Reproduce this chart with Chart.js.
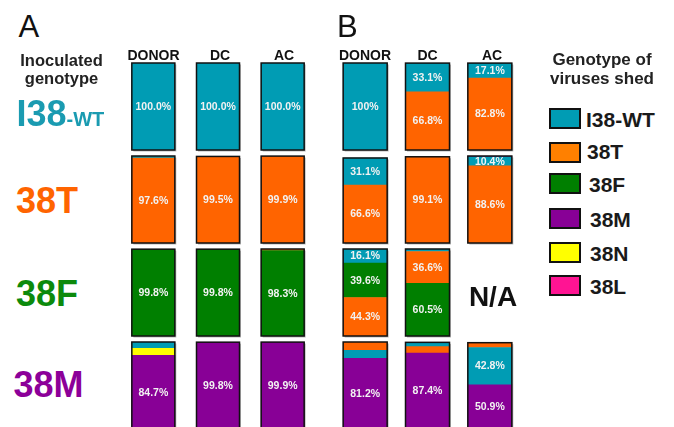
<!DOCTYPE html>
<html>
<head>
<meta charset="utf-8">
<script src="https://cdn.jsdelivr.net/npm/chart.js@4/dist/chart.umd.min.js"></script>
<style>
  html, body { margin: 0; padding: 0; background: #fff; }
  body { width: 674px; height: 427px; overflow: hidden; position: relative;
         font-family: "Liberation Sans", Arial, sans-serif; }
  .t { position: absolute; line-height: 1; white-space: nowrap; }
  .box { position: absolute; box-sizing: border-box; border: 2.5px solid #111; }
  .cell { position: absolute; }
</style>
</head>
<body>
<script>
// Genotypes of the viruses shed and their fill colours
const genotypes = ['I38-WT', '38T', '38F', '38M', '38N', '38L'];
const genotypeColors = ['#009cb4', '#ff6400', '#007f00', '#880096', '#ffff00', '#ff1493'];
const legendColors = ['#009cb4', '#ff8000', '#007f00', '#880096', '#ffff00', '#ff1493'];

// Columns: ferrets sampled; rows: genotype used for inoculation
const columnLabels = ['DONOR', 'DC', 'AC'];
const inoculated = ['I38-WT', '38T', '38F', '38M'];

// Percent of each shed genotype per ferret, segments listed bottom to top
const panelA_WT = [[['I38-WT', 100.0]], [['I38-WT', 100.0]], [['I38-WT', 100.0]]];
const panelA_T  = [[['38T', 97.6], ['I38-WT', 2.4]], [['38T', 99.5]], [['38T', 99.9]]];
const panelA_F  = [[['38F', 99.8]], [['38F', 99.8]], [['38F', 98.3], ['38T', 1.7]]];
const panelA_M  = [[['38M', 84.7], ['38N', 8.0], ['I38-WT', 7.3]], [['38M', 99.8]], [['38M', 99.9]]];

const panelB_WT = [[['I38-WT', 100]], [['38T', 66.8], ['I38-WT', 33.1]], [['38T', 82.8], ['I38-WT', 17.1]]];
const panelB_T  = [[['38T', 66.6], ['I38-WT', 31.1]], [['38T', 99.1]], [['38T', 88.6], ['I38-WT', 10.4], ['38M', 1.0]]];
const panelB_F  = [[['38T', 44.3], ['38F', 39.6], ['I38-WT', 16.1]], [['38F', 60.5], ['38T', 36.6], ['I38-WT', 2.9]], []];
const panelB_M  = [[['38M', 81.2], ['I38-WT', 9.2], ['38T', 9.6]], [['38M', 87.4], ['38T', 7.2], ['I38-WT', 5.0]], [['38M', 50.9], ['I38-WT', 42.8], ['38T', 5.5]]];

// ---- layout ----
const ROW_TOPS = [63, 156, 249, 342];
const ROW_H = 87;
const PAD = 3;
const PANELS = [
  { rows: [panelA_WT, panelA_T, panelA_F, panelA_M], left: 121, width: 194, bar: 43,
    fmt: v => v.toFixed(1) + '%', heads: [153.5, 220, 284] },
  { rows: [panelB_WT, panelB_T, panelB_F, panelB_M], left: 334, width: 187, bar: 44,
    fmt: v => (Number.isInteger(v) ? String(v) : v.toFixed(1)) + '%', heads: [365, 427.5, 492] }
];

function addText(txt, x, baseline, size, weight, color, center) {
  const d = document.createElement('div');
  d.className = 't';
  d.textContent = txt;
  d.style.fontSize = size + 'px';
  d.style.fontWeight = weight;
  d.style.color = color;
  d.style.left = x + 'px';
  d.style.top = (baseline - 0.8465 * size) + 'px';
  if (center) d.style.transform = 'translateX(-50%)';
  document.body.appendChild(d);
  return d;
}

// Outline and drop shadow around each whole stacked bar
const framePlugin = {
  id: 'barFrame',
  beforeDatasetsDraw(chart, args, opts) {
    const ctx = chart.ctx;
    frames(chart, opts.bars).forEach(f => {
      ctx.save();
      ctx.fillStyle = '#b9b9b9';
      ctx.fillRect(f.x + 1.5, f.top + 1.5, f.w, f.bottom - f.top);
      ctx.fillStyle = '#ffffff';
      ctx.fillRect(f.x, f.top, f.w, f.bottom - f.top);
      ctx.restore();
    });
  },
  afterDatasetsDraw(chart, args, opts) {
    const ctx = chart.ctx;
    frames(chart, opts.bars).forEach(f => {
      ctx.save();
      ctx.strokeStyle = '#111';
      ctx.lineWidth = 1.5;
      ctx.strokeRect(f.x, f.top, f.w, f.bottom - f.top);
      ctx.restore();
    });
    // value labels for the larger segments
    ctx.save();
    ctx.font = 'bold 10.5px "Liberation Sans", Arial, sans-serif';
    ctx.fillStyle = '#f2f2f2';
    ctx.textAlign = 'center';
    ctx.textBaseline = 'middle';
    chart.data.datasets.forEach((ds, di) => {
      const meta = chart.getDatasetMeta(di);
      meta.data.forEach((el, i) => {
        const v = ds.data[i];
        if (v == null || v < 10) return;
        const p = el.getProps(['x', 'y', 'base'], true);
        ctx.fillText(opts.fmt(v), p.x, (p.y + p.base) / 2 + 0.5);
      });
    });
    ctx.restore();
  }
};

function frames(chart, bars) {
  const out = [];
  const ys = chart.scales.y;
  bars.forEach((segs, i) => {
    if (!segs.length) return;
    const el = chart.getDatasetMeta(0).data[i];
    const p = el.getProps(['x', 'width'], true);
    const total = segs.reduce((s, g) => s + g[1], 0);
    out.push({ x: p.x - p.width / 2, w: p.width, top: ys.getPixelForValue(total), bottom: ys.getPixelForValue(0) });
  });
  return out;
}

PANELS.forEach(panel => {
  panel.rows.forEach((bars, r) => {
    const wrap = document.createElement('div');
    wrap.className = 'cell';
    wrap.style.left = panel.left + 'px';
    wrap.style.top = (ROW_TOPS[r] - PAD) + 'px';
    const cv = document.createElement('canvas');
    cv.width = panel.width;
    cv.height = ROW_H + 2 * PAD;
    wrap.appendChild(cv);
    document.body.appendChild(wrap);

    const layers = Math.max(1, ...bars.map(b => b.length));
    const datasets = [];
    for (let k = 0; k < layers; k++) {
      datasets.push({
        label: 'layer ' + k,
        data: bars.map(b => (b[k] ? b[k][1] : null)),
        backgroundColor: bars.map(b => (b[k] ? genotypeColors[genotypes.indexOf(b[k][0])] : 'rgba(0,0,0,0)')),
        borderWidth: 0,
        barThickness: panel.bar
      });
    }

    new Chart(cv, {
      type: 'bar',
      data: { labels: columnLabels, datasets },
      options: {
        responsive: false,
        animation: false,
        devicePixelRatio: 1,
        layout: { padding: { top: PAD, bottom: PAD, left: 0, right: 0 } },
        scales: {
          x: { stacked: true, display: false },
          y: { stacked: true, display: false, min: 0, max: 100 }
        },
        plugins: {
          legend: { display: false },
          tooltip: { enabled: false },
          barFrame: { bars, fmt: panel.fmt }
        }
      },
      plugins: [framePlugin]
    });
  });

  // column headers
  columnLabels.forEach((c, i) => addText(c, panel.heads[i], 60, 14, 'bold', '#111', true));
});

// Panel letters
addText('A', 18.5, 37, 31, 'normal', '#111', false);
addText('B', 337, 37, 31, 'normal', '#111', false);

// Row titles
addText('Inoculated', 61.5, 65.7, 16.5, 'bold', '#222', true);
addText('genotype', 61.5, 84, 16.5, 'bold', '#222', true);

const rowTitleColors = ['#1a9bb1', '#ff6400', '#0c8a0c', '#8c0099'];
const rowTitleBase = [126, 213, 306, 397];
{
  const d = addText('', 16.5, rowTitleBase[0], 36, 'bold', rowTitleColors[0], false);
  d.innerHTML = '<span>I38</span><span style="font-size:20px">-WT</span>';
}
addText(inoculated[1], 16, rowTitleBase[1], 36, 'bold', rowTitleColors[1], false);
addText(inoculated[2], 16, rowTitleBase[2], 36, 'bold', rowTitleColors[2], false);
addText(inoculated[3], 13.5, rowTitleBase[3], 36, 'bold', rowTitleColors[3], false);

// Missing transmission
addText('N/A', 493, 307, 28, 'bold', '#111', true);

// Legend
addText('Genotype of', 602, 65.7, 17, 'bold', '#222', true);
addText('viruses shed', 602, 84.5, 17, 'bold', '#222', true);
const legendBoxTop = [108, 142, 173, 208, 242, 275];
const legendBase = [126.7, 159, 192, 227, 261, 294];
const legendX = [586, 587, 589, 590, 590, 590];
genotypes.forEach((g, i) => {
  const b = document.createElement('div');
  b.className = 'box';
  b.style.left = '549px';
  b.style.top = legendBoxTop[i] + 'px';
  b.style.width = '32px';
  b.style.height = '21px';
  b.style.background = legendColors[i];
  document.body.appendChild(b);
  addText(g, legendX[i], legendBase[i], 21, 'bold', '#1a1a1a', false);
});
</script>
</body>
</html>
